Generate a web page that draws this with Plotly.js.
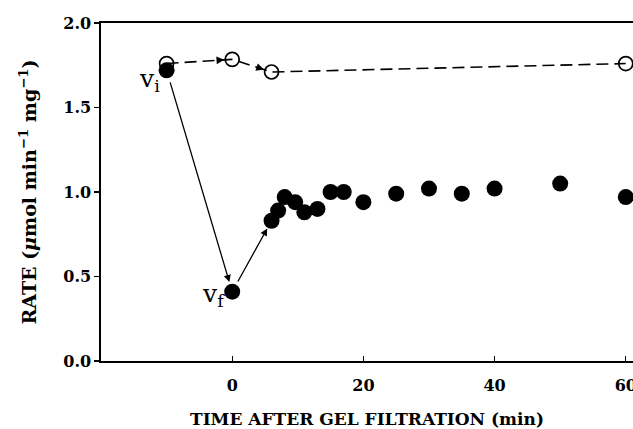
<!DOCTYPE html>
<html>
<head>
<meta charset="utf-8">
<script src="https://cdn.plot.ly/plotly-3.0.1.min.js"></script>
<style>html,body{margin:0;padding:0;background:#fff;}#chart{width:633px;height:429px;}</style>
</head>
<body>
<div id="chart"></div>
<script>
// Initial-rate series (open circles, dashed)
var openX = [-10, 0, 6, 60];
var openY = [1.76, 1.785, 1.71, 1.76];
// Rate after gel filtration (filled circles)
var filledX = [-10, 0, 6, 7, 8, 9.6, 11, 13, 15, 17, 20, 25, 30, 35, 40, 50, 60];
var filledY = [1.72, 0.41, 0.83, 0.89, 0.97, 0.94, 0.88, 0.90, 1.00, 1.00, 0.94, 0.99, 1.02, 0.99, 1.02, 1.05, 0.97];
var xTicks = [0, 20, 40, 60];
var yTicks = [0.0, 0.5, 1.0, 1.5, 2.0];
var yTickText = ["0.0", "0.5", "1.0", "1.5", "2.0"];

var W = 633, H = 429;
var margin = {l: 101, r: 0, t: 23, b: 68};
var xRange = [-20, 61.1];
var yRange = [0, 2];
var pxX = (W - margin.l - margin.r) / (xRange[1] - xRange[0]);
var pxY = (H - margin.t - margin.b) / (yRange[1] - yRange[0]);

var serif = "DejaVu Serif";

var traces = [
  {
    x: openX, y: openY, mode: "lines+markers", type: "scatter",
    line: {color: "#000", width: 1.6, dash: "12px,6px"},
    marker: {symbol: "circle-open", size: 14, color: "#000", line: {width: 1.7, color: "#000"}},
    hoverinfo: "skip"
  },
  {
    x: filledX, y: filledY, mode: "markers", type: "scatter",
    marker: {symbol: "circle", size: 16, color: "#000"},
    hoverinfo: "skip"
  }
];

var annotations = [];
// Solid arrows: vi -> vf -> first recovery point
function solidArrow(x0, y0, x1, y1, s0, s1) {
  annotations.push({
    x: x1, y: y1, ax: x0, ay: y0, xref: "x", yref: "y", axref: "x", ayref: "y",
    showarrow: true, arrowhead: 2, arrowsize: 1.1, arrowwidth: 1.3, arrowcolor: "#000",
    standoff: s1, startstandoff: s0, text: ""
  });
}
solidArrow(filledX[0], filledY[0], filledX[1], filledY[1], 11, 10);
solidArrow(filledX[1], filledY[1], filledX[2], filledY[2], 10, 9);

// Short arrowheads on the dashed segments
function headOnly(x0, y0, x1, y1, len, s1) {
  var dx = (x1 - x0) * pxX, dy = -(y1 - y0) * pxY;
  var L = Math.sqrt(dx * dx + dy * dy);
  annotations.push({
    x: x1, y: y1, xref: "x", yref: "y",
    ax: -dx / L * (len + s1), ay: -dy / L * (len + s1),
    showarrow: true, arrowhead: 2, arrowsize: 1.1, arrowwidth: 1.4, arrowcolor: "#000",
    standoff: s1, text: ""
  });
}
headOnly(openX[0], openY[0], openX[1], openY[1], 6, 8);
headOnly(openX[1], openY[1], openX[2], openY[2], 6, 8);

// Labels
annotations.push({
  x: filledX[0], y: filledY[0], xref: "x", yref: "y", xanchor: "right", yanchor: "middle",
  xshift: -5, yshift: -10, showarrow: false,
  text: "v<sub>i</sub>", font: {family: serif, size: 25, color: "#000"}
});
annotations.push({
  x: filledX[1], y: filledY[1], xref: "x", yref: "y", xanchor: "right", yanchor: "middle",
  xshift: -5, yshift: -3, showarrow: false,
  text: "v<sub>f</sub>", font: {family: serif, size: 25, color: "#000"}
});

var layout = {
  width: W, height: H, margin: margin,
  paper_bgcolor: "#fff", plot_bgcolor: "#fff",
  showlegend: false,
  font: {family: serif, color: "#000"},
  xaxis: {
    range: xRange, tickvals: xTicks, ticks: "inside", ticklen: 5, tickwidth: 1.3, tickcolor: "#000",
    showline: true, linecolor: "#000", linewidth: 1.6, mirror: true,
    showgrid: false, zeroline: false,
    tickfont: {family: serif, size: 16, color: "#000", weight: "bold"},
    ticklabelstandoff: 9, ticklabeloverflow: "allow",
    title: {text: "TIME AFTER GEL FILTRATION (min)", font: {family: serif, size: 17, color: "#000", weight: "bold"}, standoff: 20}
  },
  yaxis: {
    range: yRange, tickvals: yTicks, ticktext: yTickText, ticks: "outside", ticklen: 5, tickwidth: 1.3, tickcolor: "#000",
    showline: true, linecolor: "#000", linewidth: 1.6, mirror: false,
    showgrid: false, zeroline: false,
    tickfont: {family: serif, size: 16, color: "#000", weight: "bold"},
    title: {text: "RATE (<i>μ</i>mol min<sup>−1</sup> mg<sup>−1</sup>)", font: {family: serif, size: 19, color: "#000", weight: "bold"}, standoff: 22}
  },
  annotations: annotations
};

Plotly.newPlot("chart", traces, layout, {staticPlot: true, displayModeBar: false});
</script>
</body>
</html>
